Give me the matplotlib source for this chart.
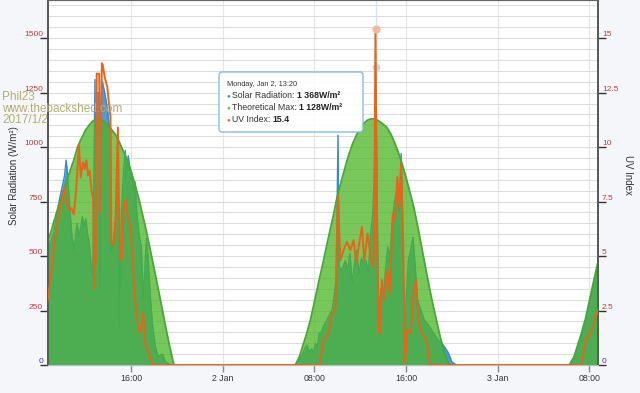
import numpy as np
import matplotlib.pyplot as plt
from matplotlib.patches import FancyBboxPatch
from matplotlib.transforms import IdentityTransform

plt.rcParams['font.family'] = ['Liberation Sans', 'DejaVu Sans']

# (hour of day, value) pairs, one list per day: 1, 2 and 3 Jan 2017
theory_day1 = [(8.67, 560), (9.0, 610), (9.33, 670), (9.67, 730), (10.0, 785), (10.33, 838),
               (10.67, 890), (11.0, 940), (11.33, 1000), (11.67, 1040), (12.0, 1075), (12.33, 1100),
               (12.67, 1120), (13.0, 1130), (13.33, 1128), (13.67, 1118), (14.0, 1100), (14.33, 1078),
               (14.67, 1055), (15.0, 1020), (15.33, 980), (15.67, 940), (16.0, 890), (16.33, 830),
               (16.67, 765), (17.0, 690), (17.33, 615), (17.67, 530), (18.0, 445), (18.33, 360),
               (18.67, 270), (19.0, 180), (19.33, 95), (19.67, 15), (19.75, 0)]
theory_day2 = [(6.33, 0), (6.67, 35), (7.0, 90), (7.33, 145), (7.67, 210), (8.0, 290), (8.33, 370),
               (8.67, 450), (9.0, 530), (9.33, 610), (9.67, 690), (10.0, 775), (10.33, 840),
               (10.67, 905), (11.0, 965), (11.33, 1015), (11.67, 1055), (12.0, 1088), (12.33, 1110),
               (12.67, 1125), (13.0, 1130), (13.33, 1128), (13.67, 1118), (14.0, 1105), (14.33, 1090),
               (14.67, 1060), (15.0, 1020), (15.33, 975), (15.67, 920), (16.0, 860), (16.33, 795),
               (16.67, 725), (17.0, 640), (17.33, 550), (17.67, 455), (18.0, 365), (18.33, 280),
               (18.67, 200), (19.0, 125), (19.33, 60), (19.67, 15), (19.83, 0)]
theory_day3 = [(6.25, 0), (6.67, 40), (7.0, 95), (7.33, 150), (7.67, 215), (8.0, 295),
               (8.33, 375), (8.67, 455), (9.0, 530)]

solar_day1 = [(8.67, 520), (8.75, 540), (9.0, 570), (9.25, 610), (9.5, 680), (9.75, 760),
              (10.0, 820), (10.2, 870), (10.33, 940), (10.45, 880), (10.6, 760), (10.8, 620),
              (11.0, 520), (11.15, 600), (11.3, 650), (11.45, 590), (11.6, 630), (11.75, 680),
              (11.9, 640), (12.05, 670), (12.2, 600), (12.35, 560), (12.5, 470), (12.65, 400),
              (12.78, 1000), (12.85, 1310), (12.92, 450), (13.0, 1250), (13.22, 1250), (13.3, 350),
              (13.4, 1200), (13.5, 1300), (13.7, 1250), (13.93, 1180), (14.05, 1120), (14.2, 1050),
              (14.28, 520), (14.45, 560), (14.65, 650), (14.85, 950), (14.95, 560), (15.0, 180),
              (15.15, 700), (15.35, 900), (15.5, 985), (15.6, 860), (15.75, 960), (15.9, 900),
              (16.05, 880), (16.2, 800), (16.35, 840), (16.5, 700), (16.7, 600), (16.9, 540),
              (17.05, 300), (17.2, 450), (17.35, 580), (17.5, 480), (17.7, 300), (17.9, 170),
              (18.1, 90), (18.35, 40), (18.6, 45), (18.75, 50), (18.95, 20), (19.2, 8), (19.5, 0)]
solar_day2 = [(6.4, 0), (6.7, 30), (7.0, 55), (7.2, 80), (7.37, 92), (7.55, 60), (7.75, 75),
              (7.9, 55), (8.09, 100), (8.25, 80), (8.4, 146), (8.6, 150), (8.8, 180), (9.1, 206),
              (9.3, 230), (9.54, 252), (9.75, 330), (9.9, 400), (10.06, 1054), (10.15, 460),
              (10.3, 435), (10.5, 450), (10.7, 480), (10.9, 435), (11.1, 512), (11.3, 375),
              (11.5, 467), (11.7, 527), (11.9, 420), (12.1, 490), (12.3, 467), (12.5, 481),
              (12.7, 420), (12.9, 600), (13.1, 700), (13.25, 900), (13.33, 1368), (13.45, 900),
              (13.6, 238), (13.8, 350), (14.0, 300), (14.2, 435), (14.4, 542), (14.6, 500),
              (14.8, 665), (15.0, 756), (15.2, 800), (15.4, 700), (15.57, 970), (15.7, 650),
              (15.85, 55), (16.0, 300), (16.2, 480), (16.4, 530), (16.6, 587), (16.8, 450),
              (17.0, 300), (17.3, 252), (17.6, 206), (18.0, 180), (18.4, 146), (18.8, 115),
              (19.1, 100), (19.4, 80), (19.7, 55), (20.0, 14), (20.4, 0)]
solar_day3 = [(6.3, 0), (6.6, 20), (6.9, 60), (7.2, 110), (7.5, 170), (7.8, 230), (8.1, 300),
              (8.4, 370), (8.7, 440), (8.9, 480)]

uv_day1 = [(8.67, 2.8), (8.75, 3.1), (9.1, 4.5), (9.4, 5.9), (9.7, 7.0), (10.0, 7.6), (10.2, 8.2),
           (10.4, 7.4), (10.6, 7.1), (10.8, 7.2), (11.0, 6.9), (11.2, 8.0), (11.45, 10.1),
           (11.6, 8.6), (11.8, 9.3), (11.95, 9.0), (12.1, 9.4), (12.25, 8.7), (12.4, 8.9),
           (12.55, 8.0), (12.7, 7.6), (12.78, 3.5), (12.92, 5.0), (13.0, 13.37), (13.22, 13.37),
           (13.3, 7.0), (13.45, 13.85), (13.52, 13.8), (13.7, 13.2), (13.93, 12.75), (14.05, 12.1),
           (14.2, 11.4), (14.28, 5.6), (14.45, 5.5), (14.65, 6.8), (14.85, 10.9), (14.95, 7.1),
           (15.05, 4.8), (15.2, 4.9), (15.35, 7.1), (15.55, 7.6), (15.75, 6.7), (15.9, 6.5),
           (16.05, 5.6), (16.35, 3.0), (16.55, 2.06), (16.75, 1.5), (16.95, 1.75), (17.05, 2.4),
           (17.25, 1.0), (17.5, 0.6), (17.85, 0.1), (17.95, 0)]
uv_day2 = [(8.45, 0), (8.81, 1.15), (9.25, 1.45), (9.54, 2.4), (9.83, 2.5), (10.06, 7.8),
           (10.26, 4.8), (10.55, 5.27), (10.84, 5.65), (11.13, 5.27), (11.42, 5.73), (11.65, 4.66),
           (11.86, 5.42), (12.15, 6.34), (12.35, 4.8), (12.64, 6.03), (12.87, 5.1), (13.1, 4.5),
           (13.2, 5.0), (13.33, 15.4), (13.47, 6.0), (13.6, 2.0), (13.68, 1.45), (13.89, 3.9),
           (14.11, 3.0), (14.38, 4.35), (14.61, 3.29), (14.84, 6.95), (15.04, 6.65), (15.24, 8.63),
           (15.42, 7.25), (15.57, 9.24), (15.77, 5.1), (15.91, 0.1), (16.11, 1.6), (16.41, 1.45),
           (16.64, 3.29), (16.87, 3.9), (17.07, 2.06), (17.37, 1.45), (17.8, 1.15), (18.09, 0)]
uv_day3 = [(7.25, 0), (7.45, 0.4), (7.71, 1.15), (8.0, 1.4), (8.29, 1.75), (8.55, 2.2),
           (8.75, 2.5), (8.9, 2.7)]

x_ticks = [16, 24, 32, 40, 48, 56]
x_labels = ['16:00', '2 Jan', '08:00', '16:00', '3 Jan', '08:00']
left_ticks = [0, 250, 500, 750, 1000, 1250, 1500]
right_ticks = [0, 2.5, 5, 7.5, 10, 12.5, 15]
right_labels = ['0', '2.5', '5', '7.5', '10', '12.5', '15']

hover_hour = 37.333
hover_solar = 1368
hover_uv = 15.4


def join(d1, d2, d3):
    t = [h for h, _ in d1] + [h + 24 for h, _ in d2] + [h + 48 for h, _ in d3]
    v = [v for _, v in d1] + [v for _, v in d2] + [v for _, v in d3]
    return np.array(t), np.array(v)


theory_t, theory_v = join(theory_day1, theory_day2, theory_day3)
solar_t, solar_v = join(solar_day1, solar_day2, solar_day3)
uv_t, uv_v = join(uv_day1, uv_day2, uv_day3)

fig = plt.figure(figsize=(6.4, 3.93), dpi=100, facecolor='#f5f6fa')
ax = fig.add_axes([48 / 640, 28 / 393, 550 / 640, 365 / 393])
ax.set_facecolor('white')
ax2 = ax.twinx()

# series
ax.fill_between(solar_t, solar_v, color='#519bd6', lw=0, zorder=1)
ax.plot(solar_t, solar_v, color='#2e8bd8', lw=1.0, zorder=2)
ax.fill_between(theory_t, theory_v, color='#4bb523', alpha=0.75, lw=0, zorder=3)
ax.plot(theory_t, theory_v, color='#48a738', lw=1.3, zorder=4)
ax.axvline(hover_hour, ymin=hover_solar / 1675, color='#d3e5f5', lw=1, zorder=1)
ax.plot([hover_hour], [hover_solar], 'o', ms=5.5, mfc='#bcd6ee', mec='none', zorder=5)

ax2.plot(uv_t, uv_v, color='#e8641c', lw=1.4, zorder=3)
ax2.plot([hover_hour], [hover_uv], 'o', ms=6, mfc='#f6b9a2', mec='none', zorder=4)

ax.set_xlim(8.75, 56.75)
ax.set_ylim(0, 1675)
ax2.set_ylim(0, 16.75)

# axes, ticks, grid
ax.set_xticks(x_ticks, x_labels)
ax.tick_params(axis='x', length=5, width=1, color='#888888', labelsize=6.3,
               labelcolor='#333333', pad=1.5)
ax.set_yticks(left_ticks, [str(v) for v in left_ticks])
ax.set_yticks(np.arange(0, 1700, 50), minor=True)
ax.tick_params(axis='y', which='major', length=5.8, width=1, color='#333333',
               labelsize=6, pad=-2.2)
ax.tick_params(axis='y', which='minor', length=0)
ax.grid(axis='y', which='both', color='#dcdcdc', lw=0.8)
ax.grid(axis='x', which='major', color='#e6e6e6', lw=0.8)
ax.set_axisbelow(True)

ax2.set_yticks(right_ticks, right_labels)
ax2.tick_params(axis='y', length=5.8, width=1, color='#333333', labelsize=6, pad=-2.9)

for a in (ax, ax2):
    for lab in a.get_yticklabels():
        lab.set_va('bottom')
        lab.set_color('#3333bb' if lab.get_text() == '0' else '#c8383a')

for a in (ax, ax2):
    a.spines['left'].set_color('#555555')
    a.spines['right'].set_color('#555555')
    a.spines['top'].set_color('#666666')
    a.spines['bottom'].set_color('#bbbbbb')
    a.spines['left'].set_linewidth(1.2)
    a.spines['right'].set_linewidth(1.2)

fig.text(14 / 640, 1 - 176 / 393, 'Solar Radiation (W/m²)', rotation=90, ha='center',
         va='center', fontsize=7, color='#333333')
fig.text(628 / 640, 1 - 175 / 393, 'UV Index', rotation=270, ha='center', va='center',
         fontsize=7, color='#333333')

# watermark
fig.text(2 / 640, 1 - 91 / 393, 'Phil23\nwww.thebackshed.com\n2017/1/2', ha='left', va='top',
         fontsize=8.5, color='#b5ae70', linespacing=0.95, zorder=10)

# tooltip
idt = IdentityTransform()
box = FancyBboxPatch((219, 393 - 132), 144, 60, boxstyle='round,pad=0,rounding_size=3',
                     transform=idt, facecolor='white', edgecolor='#7db7de', lw=1,
                     alpha=0.92, zorder=20)
fig.patches.append(box)
fig.text(227, 393 - 85, 'Monday, Jan 2, 13:20', transform=idt, fontsize=5.3,
         color='#333333', va='center', zorder=21)

renderer = fig.canvas.get_renderer()
tip_rows = [('#2e8bd8', 'Solar Radiation: ', '1 368W/m²', 96),
            ('#5cb83c', 'Theoretical Max: ', '1 128W/m²', 108),
            ('#e8641c', 'UV Index: ', '15.4', 120)]
for col, name, val, yy in tip_rows:
    fig.text(226, 393 - yy, '●', transform=idt, fontsize=4.5, color=col, va='center', zorder=21)
    t = fig.text(232, 393 - yy, name, transform=idt, fontsize=6.3, color='#333333',
                 va='center', zorder=21)
    x1 = t.get_window_extent(renderer).x1
    fig.text(x1, 393 - yy, val, transform=idt, fontsize=6.3, color='#222222',
             fontweight='bold', va='center', zorder=21)

fig.savefig('out.png', dpi=100, facecolor=fig.get_facecolor())
